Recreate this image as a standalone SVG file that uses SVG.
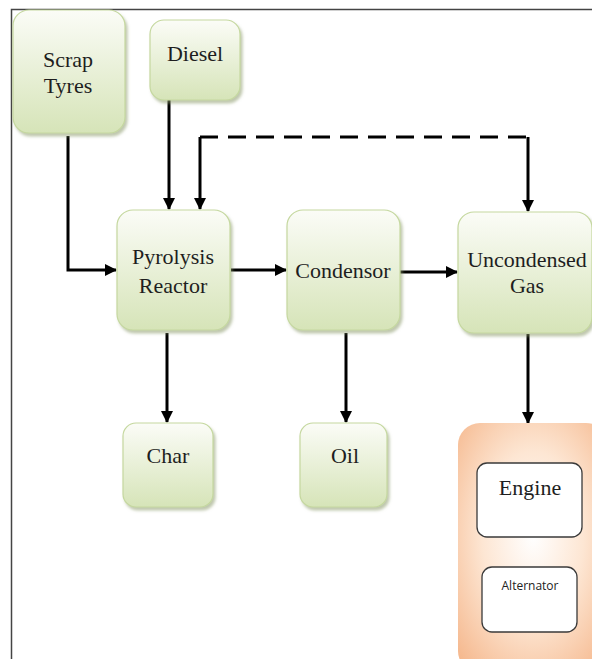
<svg xmlns="http://www.w3.org/2000/svg" width="592" height="659" viewBox="0 0 592 659">
<defs>
<style>
.box{fill:url(#g);stroke:#c5d89f;stroke-width:1.2;filter:url(#sh)}
.t{font-family:"Liberation Serif","Times New Roman",serif;font-size:22px;fill:#1e1e1e;text-anchor:middle}
.ln{fill:none;stroke:#000;stroke-width:3}
.inner{fill:#fff;stroke:#3a3a3a;stroke-width:1.3}
</style>
<linearGradient id="g" x1="0" y1="0" x2="0" y2="1">
<stop offset="0" stop-color="#fbfcf7"/>
<stop offset="1" stop-color="#d6e4b8"/>
</linearGradient>
<radialGradient id="og" cx="0.5" cy="0.45" r="0.75">
<stop offset="0" stop-color="#ffffff"/>
<stop offset="0.45" stop-color="#fde6d3"/>
<stop offset="1" stop-color="#f4b183"/>
</radialGradient>
<filter id="sh" x="-10%" y="-10%" width="125%" height="125%">
<feDropShadow dx="2" dy="3" stdDeviation="1.5" flood-color="#8a9a6a" flood-opacity="0.55"/>
</filter>
<marker id="ah" markerUnits="userSpaceOnUse" markerWidth="12" markerHeight="12" refX="11" refY="6" orient="auto">
<path d="M0,0 L12,6 L0,12 Z" fill="#000"/>
</marker>
</defs>
<rect width="592" height="659" fill="#fff"/>
<path d="M11.5,659 V9.5 H592" fill="none" stroke="#444" stroke-width="1.5"/>
<g id="connectors">
<path class="ln" d="M68,136 V270 H116" marker-end="url(#ah)"/>
<path class="ln" d="M169,100 V209" marker-end="url(#ah)"/>
<path class="ln" d="M200,137 V209" marker-end="url(#ah)"/>
<path class="ln" d="M200,137 H528" stroke-dasharray="18 10"/>
<path class="ln" d="M528,137 V211" marker-end="url(#ah)"/>
<path class="ln" d="M231,270 H286" marker-end="url(#ah)"/>
<path class="ln" d="M400,272 H457" marker-end="url(#ah)"/>
<path class="ln" d="M167,333 V422" marker-end="url(#ah)"/>
<path class="ln" d="M346,333 V422" marker-end="url(#ah)"/>
<path class="ln" d="M528,334 V423" marker-end="url(#ah)"/>
</g>
<g id="scrap-tyres">
<rect class="box" x="13" y="10" width="112" height="123" rx="16"/>
<text class="t" x="68" y="67">Scrap</text>
<text class="t" x="68" y="93">Tyres</text>
</g>
<g id="diesel">
<rect class="box" x="150" y="20" width="90" height="80" rx="14"/>
<text class="t" x="195" y="61">Diesel</text>
</g>
<g id="pyrolysis-reactor">
<rect class="box" x="117" y="210" width="113" height="120" rx="16"/>
<text class="t" x="173" y="264">Pyrolysis</text>
<text class="t" x="173" y="293">Reactor</text>
</g>
<g id="condensor">
<rect class="box" x="287" y="210" width="113" height="120" rx="16"/>
<text class="t" x="343" y="278">Condensor</text>
</g>
<g id="uncondensed-gas">
<rect class="box" x="458" y="212" width="134" height="121" rx="16"/>
<text class="t" x="527" y="267">Uncondensed</text>
<text class="t" x="527" y="293">Gas</text>
</g>
<g id="char">
<rect class="box" x="123" y="423" width="90" height="84" rx="13"/>
<text class="t" x="168" y="463">Char</text>
</g>
<g id="oil">
<rect class="box" x="300" y="423" width="87" height="84" rx="13"/>
<text class="t" x="345" y="463">Oil</text>
</g>
<g id="engine-alternator">
<rect x="458" y="423" width="150" height="250" rx="22" fill="url(#og)"/>
<rect class="inner" x="477" y="463" width="105" height="74" rx="10"/>
<text class="t" x="530" y="495" font-size="21">Engine</text>
<rect class="inner" x="482" y="567" width="95" height="65" rx="10"/>
<text x="530" y="590" font-family="'Open Sans','Liberation Sans',sans-serif" font-size="12" fill="#222" text-anchor="middle">Alternator</text>
</g>
</svg>
